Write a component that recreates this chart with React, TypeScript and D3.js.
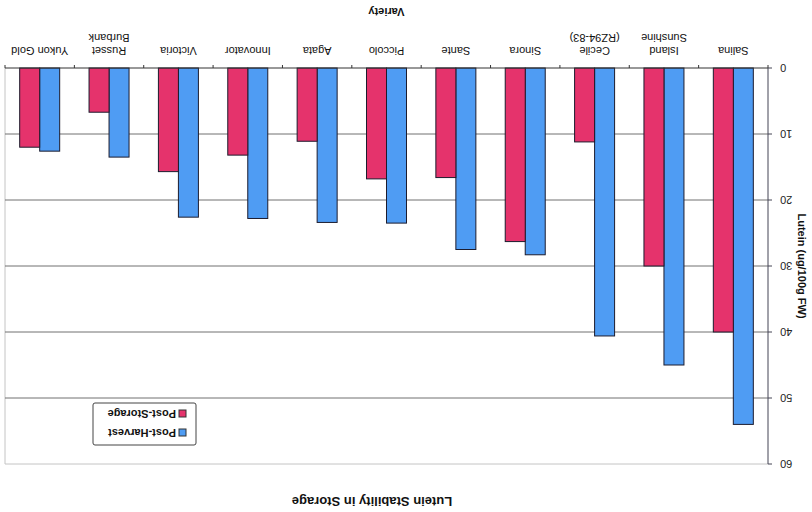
import React from "react";
import * as d3 from "d3";

const varieties: string[][] = [
  ["Salina"],
  ["Island", "Sunshine"],
  ["Cecile", "(RZ94-83)"],
  ["Sinora"],
  ["Sante"],
  ["Piccolo"],
  ["Agata"],
  ["Innovator"],
  ["Victoria"],
  ["Russet", "Burbank"],
  ["Yukon Gold"],
];
const postHarvest = [54, 45, 40.6, 28.3, 27.5, 23.5, 23.4, 22.8, 22.6, 13.5, 12.6];
const postStorage = [40, 30, 11.2, 26.3, 16.6, 16.8, 11.1, 13.2, 15.7, 6.7, 12];
const yTicks = [0, 10, 20, 30, 40, 50, 60];
const seriesNames = ["Post-Harvest", "Post-Storage"];
const seriesColors = ["#4f9cf3", "#e5336c"];

const W = 812;
const H = 512;
const left = 44;
const right = 807;
const top = 48;
const bottom = 444;
const font = "'Liberation Sans', Arial, sans-serif";

export default function App() {
  const keys = varieties.map((v) => v.join(" "));
  const x = d3.scaleBand<string>().domain(keys).range([left, right]).padding(0);
  const y = d3.scaleLinear().domain([0, 60]).range([bottom, top]);
  const barW = 20;
  const series = [postHarvest, postStorage];

  return (
    <svg
      width={W}
      height={H}
      style={{ position: "absolute", left: 0, top: 0, background: "#fff" }}
      fontFamily={font}
    >
      <rect width={W} height={H} fill="#fff" />
      <g transform={`rotate(180 ${W / 2} ${H / 2})`}>
        {/* title */}
        <text x={440} y={15} textAnchor="middle" fontSize={13} fontWeight="bold" fill="#111">
          Lutein Stability in Storage
        </text>

        {/* plot border */}
        <line x1={left} x2={right} y1={y(60)} y2={y(60)} stroke="#c4c4c4" />
        <line x1={right} x2={right} y1={y(60)} y2={bottom} stroke="#c4c4c4" />

        {/* gridlines */}
        {yTicks.filter((t) => t > 0 && t < 60).map((t) => (
          <line key={t} x1={left} x2={right} y1={y(t)} y2={y(t)} stroke="#707070" strokeWidth={1} />
        ))}

        {/* bars */}
        {keys.map((k, i) =>
          series.map((s, j) => {
            const cx = (x(k) as number) + x.bandwidth() / 2;
            const bx = cx - barW + j * barW;
            return (
              <rect
                key={k + j}
                x={bx}
                y={y(s[i])}
                width={barW}
                height={bottom - y(s[i])}
                fill={seriesColors[j]}
                stroke="#1c1c2e"
                strokeWidth={1}
              />
            );
          })
        )}

        {/* value axis */}
        <line x1={left} x2={left} y1={top} y2={bottom} stroke="#445" />
        {yTicks.map((t) => (
          <g key={t}>
            <line x1={left - 4} x2={left} y1={y(t)} y2={y(t)} stroke="#445" />
            <text x={left - 12} y={y(t) + 4} textAnchor="end" fontSize={11} fill="#222">
              {t}
            </text>
          </g>
        ))}
        <text
          transform={`translate(14 ${(top + bottom) / 2}) rotate(-90)`}
          textAnchor="middle"
          fontSize={11}
          fontWeight="bold"
          fill="#111"
        >
          Lutein (ug/100g FW)
        </text>

        {/* category axis */}
        <line x1={left} x2={right} y1={bottom} y2={bottom} stroke="#333" />
        {keys.map((k) => (
          <line key={k} x1={x(k) as number} x2={x(k) as number} y1={bottom} y2={bottom + 3} stroke="#333" />
        ))}
        <line x1={right} x2={right} y1={bottom} y2={bottom + 3} stroke="#333" />
        {varieties.map((lines, i) => {
          const cx = (x(keys[i]) as number) + x.bandwidth() / 2;
          return (
            <text key={keys[i]} x={cx} textAnchor="middle" fontSize={11} fill="#111">
              {lines.map((ln, li) => (
                <tspan key={li} x={cx} y={465 + li * 13}>
                  {ln}
                </tspan>
              ))}
            </text>
          );
        })}
        <text x={(left + right) / 2} y={504} textAnchor="middle" fontSize={11} fontWeight="bold" fill="#111">
          Variety
        </text>

        {/* legend */}
        <rect x={616} y={67} width={103} height={42} fill="#fff" stroke="#444" rx={2} />
        {seriesNames.map((n, j) => (
          <g key={n}>
            <rect x={626} y={76 + j * 19} width={7} height={7} fill={seriesColors[j]} stroke="#333" />
            <text x={636} y={83 + j * 19} fontSize={11} fontWeight="bold" fill="#111">
              {n}
            </text>
          </g>
        ))}
      </g>
    </svg>
  );
}
